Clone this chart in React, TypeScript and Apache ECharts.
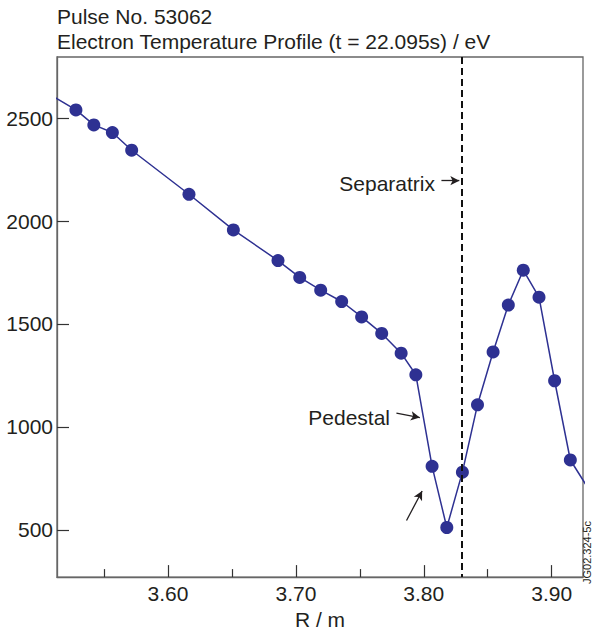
import React, { useEffect, useRef } from "react";
import * as echarts from "echarts";

// Measured profile points (R in m, Te in eV)
const radius = [3.528, 3.542, 3.5565, 3.5716, 3.6164, 3.6511, 3.686, 3.703, 3.7194, 3.7358, 3.7514, 3.7671, 3.7823, 3.7938, 3.8065, 3.818, 3.8302, 3.842, 3.8542, 3.8661, 3.8778, 3.8901, 3.9023, 3.9146];
const temperature = [2540, 2467, 2430, 2344, 2130, 1957, 1808, 1726, 1664, 1609, 1534, 1454, 1358, 1253, 808, 511, 780, 1107, 1364, 1592, 1761, 1630, 1224, 839];
// Where the connecting line leaves the frame on each side
const lineEndR = [3.505, 3.93];
const lineEndTe = [2624, 687];

const xTicks = [3.6, 3.7, 3.8, 3.9];
const xMinorTicks = [3.55, 3.65, 3.75, 3.85];
const yTicks = [500, 1000, 1500, 2000, 2500];
const separatrixR = 3.83;

const titleLines = ["Pulse No. 53062", "Electron Temperature Profile (t = 22.095s) / eV"];

const BLUE = "#2e3192";
const INK = "#231f20";
const FONT = "Liberation Sans, Arial, Helvetica, sans-serif";

export default function App() {
  const ref = useRef<HTMLDivElement>(null);
  useEffect(() => {
    if (!ref.current) return;
    const chart = echarts.init(ref.current, undefined, { renderer: "svg" });
    const data: any[] = [];
    data.push({ value: [lineEndR[0], lineEndTe[0]], symbol: "none" });
    radius.forEach((r, i) => data.push([r, temperature[i]]));
    data.push({ value: [lineEndR[1], lineEndTe[1]], symbol: "none" });

    const arrowLine = { color: INK, width: 1.3, type: "solid" };
    chart.setOption({
      animation: false,
      backgroundColor: "#ffffff",
      textStyle: { fontFamily: FONT },
      title: {
        text: titleLines.join("\n"),
        left: 57,
        top: 4,
        padding: 0,
        textStyle: { fontSize: 21, fontWeight: "normal", color: INK, lineHeight: 25, fontFamily: FONT },
      },
      grid: {
        left: 57,
        top: 57,
        right: 11,
        bottom: 51,
        show: true,
        borderColor: "#666",
        borderWidth: 1.3,
        containLabel: false,
      },
      xAxis: [
        {
          type: "value",
          min: 3.5132,
          max: 3.9245,
          position: "bottom",
          name: "R / m",
          nameLocation: "middle",
          nameGap: 31,
          nameTextStyle: { fontSize: 21, color: INK, fontFamily: FONT },
          axisLine: { show: true, lineStyle: { color: "#666", width: 1.3 } },
          axisTick: { show: true, inside: true, length: 12, customValues: xTicks, lineStyle: { color: "#333", width: 1.2 } },
          axisLabel: {
            show: true,
            customValues: xTicks,
            margin: 6,
            fontSize: 21,
            color: INK,
            fontFamily: FONT,
            formatter: (v: number) => v.toFixed(2),
          },
          splitLine: { show: false },
        },
        {
          type: "value",
          min: 3.5132,
          max: 3.9245,
          position: "bottom",
          axisLine: { show: false },
          axisTick: { show: true, inside: true, length: 8, customValues: xMinorTicks, lineStyle: { color: "#333", width: 1.2 } },
          axisLabel: { show: false },
          splitLine: { show: false },
        },
      ],
      yAxis: {
        type: "value",
        min: 270,
        max: 2797,
        axisLine: { show: true, lineStyle: { color: "#666", width: 1.3 } },
        axisTick: { show: true, inside: true, length: 12, customValues: yTicks, lineStyle: { color: "#333", width: 1.2 } },
        axisLabel: {
          show: true,
          customValues: yTicks,
          margin: 4,
          fontSize: 21,
          color: INK,
          fontFamily: FONT,
          formatter: (v: number) => String(v),
        },
        splitLine: { show: false },
      },
      series: [
        {
          type: "line",
          data,
          clip: true,
          symbol: "circle",
          symbolSize: 13,
          itemStyle: { color: BLUE },
          lineStyle: { color: BLUE, width: 1.5 },
          markLine: {
            silent: true,
            animation: false,
            label: { show: false },
            data: [
              [
                { coord: [separatrixR, 2797], symbol: "none" },
                { coord: [separatrixR, 270], symbol: "none", lineStyle: { color: "#111", width: 2, type: [7, 4] } },
              ],
              [
                { coord: [3.8138, 2196], symbol: "none" },
                { coord: [3.8278, 2196], symbol: "arrow", symbolSize: [7, 9], lineStyle: arrowLine },
              ],
              [
                { coord: [3.7786, 1067], symbol: "none" },
                { coord: [3.7969, 1045], symbol: "arrow", symbolSize: [7, 9], lineStyle: arrowLine },
              ],
              [
                { coord: [3.7865, 545], symbol: "none" },
                { coord: [3.7987, 688], symbol: "arrow", symbolSize: [7, 9], lineStyle: arrowLine },
              ],
            ],
          },
        },
      ],
      graphic: [
        {
          type: "text",
          x: 435,
          y: 183,
          style: { text: "Separatrix", fontSize: 21, fill: INK, align: "right", verticalAlign: "middle", fontFamily: FONT },
        },
        {
          type: "text",
          x: 390,
          y: 417,
          style: { text: "Pedestal", fontSize: 21, fill: INK, align: "right", verticalAlign: "middle", fontFamily: FONT },
        },
        {
          type: "text",
          x: 587,
          y: 584,
          rotation: Math.PI / 2,
          style: { text: "JG02.324-5c", fontSize: 11, fill: INK, align: "left", verticalAlign: "middle", fontFamily: FONT },
        },
      ],
    });
    return () => chart.dispose();
  }, []);
  return (
    <div
      ref={ref}
      style={{ position: "fixed", left: 0, top: 0, width: 594, height: 635, background: "#fff" }}
    />
  );
}
